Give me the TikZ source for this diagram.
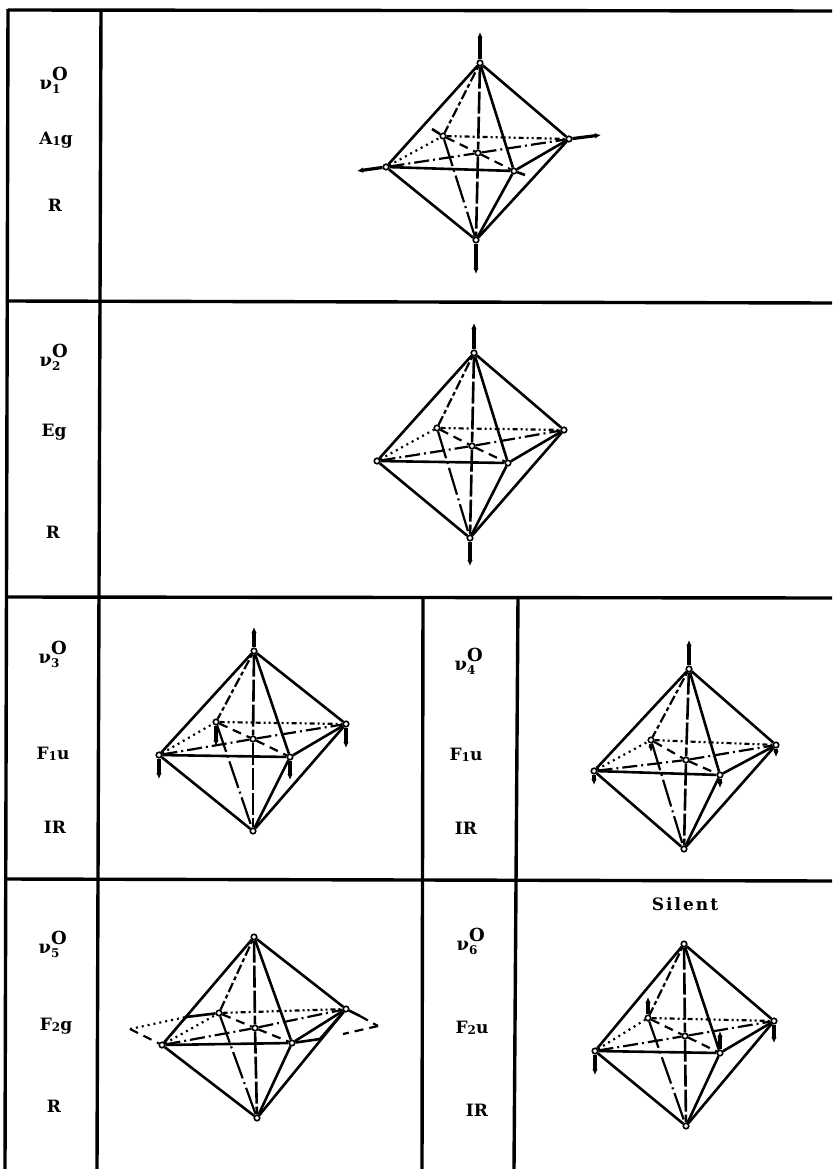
\documentclass[tikz,border=0pt]{standalone}
\usepackage{fontspec}
\setmainfont{DejaVu Serif}
\usetikzlibrary{arrows.meta}
\newfontfamily\spaced[LetterSpace=12]{DejaVu Serif}
\newcommand{\bigf}{\fontsize{17}{17}\selectfont\bfseries}
\newcommand{\smf}{\fontsize{12}{12}\selectfont\bfseries}
\newcommand{\nulab}[1]{{\fontsize{18}{18}\selectfont\bfseries ν\rlap{\raisebox{9pt}{\fontsize{18}{18}\selectfont O}}\raisebox{-4pt}{\smf #1}}}
\newcommand{\symlab}[3]{{\bigf #1\raisebox{-1pt}{\smf #2}#3}}
\tikzset{
  rule/.style={line width=3.4pt,black},
  vtx/.style={circle,draw=black,fill=white,line width=1.6pt,inner sep=0pt,minimum size=5.5pt},
  edge/.style={line width=2.6pt,black},
  hlong/.style={line width=2.6pt,dash pattern=on 22pt off 3pt},
  hdashdot/.style={line width=2.2pt,dash pattern=on 15pt off 4pt on 2pt off 4pt},
  hdash/.style={line width=2.2pt,dash pattern=on 9pt off 6pt},
  hdot/.style={line width=2.2pt,dash pattern=on 2pt off 4pt},
  hddot/.style={line width=2.2pt,dash pattern=on 5pt off 3pt on 2pt off 3pt on 2pt off 3pt},
  hup/.style={line width=2.2pt,dash pattern=on 4pt off 3pt on 10pt off 3pt},
  hlow/.style={line width=2.2pt,dash pattern=on 28pt off 4pt on 2pt off 4pt},
  move/.style={line width=3.2pt,-{Latex[length=6pt,width=5.5pt]}},
  txt/.style={inner sep=0pt,font=\bigf}
}
% name, top, left, back, right, front, bottom, centre
\newcommand{\octa}[8]{%
  \node[vtx] (#1t) at (#2) {};
  \node[vtx] (#1l) at (#3) {};
  \node[vtx] (#1k) at (#4) {};
  \node[vtx] (#1r) at (#5) {};
  \node[vtx] (#1f) at (#6) {};
  \node[vtx] (#1b) at (#7) {};
  \node[vtx] (#1c) at (#8) {};
  \draw[edge] (#1t)--(#1l);
  \draw[edge] (#1t)--(#1r);
  \draw[edge] (#1t)--(#1f);
  \draw[edge] (#1b)--(#1l);
  \draw[edge] (#1b)--(#1r);
  \draw[edge] (#1b)--(#1f);
  \draw[edge] (#1l)--(#1f);
  \draw[edge] (#1f)--(#1r);
  \draw[hup] (#1t)--(#1k);
  \draw[hlow] (#1k)--(#1b);
  \draw[hdot] (#1l)--(#1k);
  \draw[hddot] (#1k)--(#1r);
  \draw[hlong] (#1t)--(#1c);
  \draw[hlong] (#1c)--(#1b);
  \draw[hdashdot] (#1l)--(#1c);
  \draw[hdashdot] (#1c)--(#1r);
  \draw[hdash] (#1k)--(#1c);
  \draw[hdash] (#1c)--(#1f);
}
\begin{document}
\begin{tikzpicture}[x=1pt,y=-1pt]
\useasboundingbox (0,0) rectangle (832,1169);
% table rules
\coordinate (ra) at (8,9);    \coordinate (rb) at (5,1169);
\coordinate (rc) at (101,11); \coordinate (rd) at (97,1169);
\coordinate (re) at (8,10);   \coordinate (rf) at (832,11);
\coordinate (rg) at (6,301);  \coordinate (rh) at (832,303);
\coordinate (ri) at (6,597);  \coordinate (rj) at (832,598);
\coordinate (rk) at (5,879);  \coordinate (rl) at (832,881);
\coordinate (rm) at (423,598);\coordinate (rn) at (422,1169);
\coordinate (ro) at (518,598);\coordinate (rp) at (514,1169);
\draw[rule] (ra)--(rb);
\draw[rule] (rc)--(rd);
\draw[rule] (re)--(rf);
\draw[rule] (rg)--(rh);
\draw[rule] (ri)--(rj);
\draw[rule] (rk)--(rl);
\draw[rule] (rm)--(rn);
\draw[rule] (ro)--(rp);
% labels
\node[txt] (n1) at (50,80) {\nulab{1}};
\node[txt] (s1) at (56,140) {\symlab{A}{1}{g}};
\node[txt] (l1) at (55,205) {R};
\node[txt] (n2) at (50,357) {\nulab{2}};
\node[txt] (s2) at (54,432) {Eg};
\node[txt] (l2) at (53,532) {R};
\node[txt] (n3) at (49,654) {\nulab{3}};
\node[txt] (s3) at (53,754) {\symlab{F}{1}{u}};
\node[txt] (l3) at (55,827) {IR};
\node[txt] (n4) at (465,661) {\nulab{4}};
\node[txt] (s4) at (466,755) {\symlab{F}{1}{u}};
\node[txt] (l4) at (466,828) {IR};
\node[txt] (n5) at (49,944) {\nulab{5}};
\node[txt] (s5) at (56,1026) {\symlab{F}{2}{g}};
\node[txt] (l5) at (54,1106) {R};
\node[txt] (n6) at (467,941) {\nulab{6}};
\node[txt] (s6) at (472,1028) {\symlab{F}{2}{u}};
\node[txt] (l6) at (477,1110) {IR};
\node[txt] (sil) at (685,904) {\spaced\bfseries Silent};
% nu1
\octa{a}{480,63}{386,167}{443,136}{569,139}{514,171}{476,240}{478,153}
\coordinate (a1) at (480,32); \coordinate (a2) at (476,274);
\coordinate (a3) at (357,171); \coordinate (a4) at (601,135);
\coordinate (a5) at (432,129); \coordinate (a6) at (525,175);
\draw[move] (at)--(a1); \draw[move] (ab)--(a2);
\draw[move] (al)--(a3); \draw[move] (ar)--(a4);
\draw[edge] (ak)--(a5); \draw[edge] (af)--(a6);
% nu2
\octa{b}{474,353}{377,461}{437,428}{564,430}{508,463}{470,538}{472,446}
\coordinate (b1) at (474,323); \coordinate (b2) at (470,566);
\draw[move] (bt)--(b1); \draw[move] (bb)--(b2);
% nu3
\octa{c}{254,651}{159,755}{216,722}{346,724}{290,757}{253,831}{253,739}
\coordinate (c1) at (254,627); \coordinate (c2) at (159,779);
\coordinate (c3) at (216,746); \coordinate (c4) at (346,748);
\coordinate (c5) at (290,780);
\draw[move] (ct)--(c1); \draw[move] (cl)--(c2); \draw[move] (ck)--(c3);
\draw[move] (cr)--(c4); \draw[move] (cf)--(c5);
% nu4
\octa{d}{689,669}{594,771}{651,740}{776,745}{720,775}{684,849}{686,760}
\coordinate (d1) at (689,640); \coordinate (d2) at (594,785);
\coordinate (d3) at (651,752); \coordinate (d4) at (776,757);
\coordinate (d5) at (720,788);
\draw[move] (dt)--(d1); \draw[move] (dl)--(d2); \draw[move] (dk)--(d3);
\draw[move] (dr)--(d4); \draw[move] (df)--(d5);
% nu5
\octa{e}{254,937}{162,1045}{219,1013}{346,1009}{292,1043}{257,1118}{255,1028}
\coordinate (e1) at (130,1029); \coordinate (e2) at (186,1017);
\coordinate (e3) at (378,1026); \coordinate (e4) at (343,1034);
\coordinate (e5) at (320,1039); \coordinate (e6) at (360,1016);
\draw[hdot] (e1)--(e2);
\draw[edge] (e2)--(ek);
\draw[hdash] (e1)--(el);
\draw[hdash] (e2)--(el);
\draw[edge] (er)--(e6);
\draw[hdash] (e6)--(e3);
\draw[hdash] (e3)--(e4);
\draw[edge] (ef)--(e5);
\draw[edge] (e5)--(er);
% nu6
\octa{f}{684,944}{595,1051}{648,1018}{774,1021}{720,1053}{686,1126}{685,1036}
\coordinate (f1) at (595,1075); \coordinate (f2) at (648,997);
\coordinate (f3) at (774,1043); \coordinate (f4) at (720,1031);
\draw[move] (fl)--(f1); \draw[move] (fk)--(f2);
\draw[move] (fr)--(f3); \draw[move] (ff)--(f4);
\end{tikzpicture}
\end{document}
